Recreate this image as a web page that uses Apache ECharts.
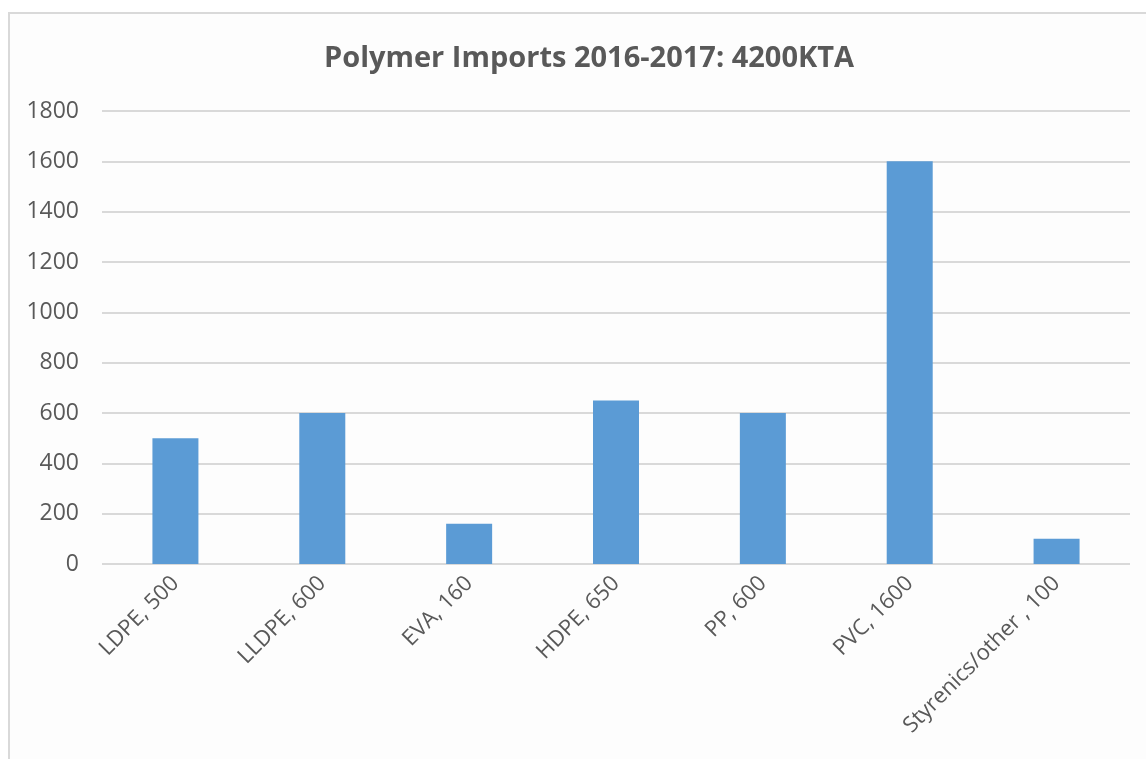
<!DOCTYPE html>
<html>
<head>
<meta charset="utf-8">
<script src="https://cdn.jsdelivr.net/npm/echarts@6/dist/echarts.min.js"></script>
<style>
  html, body { margin: 0; padding: 0; background: #ffffff; }
  #frame {
    position: absolute; left: 8px; top: 12px; width: 1150px; height: 760px;
    border: 2px solid #d9d9d9; background: #fdfdfd; box-sizing: border-box;
  }
  #chart { position: absolute; left: 0; top: 0; width: 1146px; height: 759px; }
</style>
</head>
<body>
<div id="frame"></div>
<div id="chart"></div>
<script>
// Polymer import volumes by type (KTA)
const categories = ['LDPE, 500', 'LLDPE, 600', 'EVA, 160', 'HDPE, 650', 'PP, 600', 'PVC, 1600', 'Styrenics/other , 100'];
const values = [500, 600, 160, 650, 600, 1600, 100];
const titleText = 'Polymer Imports 2016-2017: 4200KTA';

const chart = echarts.init(document.getElementById('chart'), null, { renderer: 'canvas' });
chart.setOption({
  backgroundColor: 'transparent',
  animation: false,
  title: {
    text: titleText,
    left: 319,
    top: 39,
    textStyle: { fontFamily: 'Open Sans', fontWeight: 'bold', fontSize: 29, color: '#595959' }
  },
  grid: { left: 102, right: 16, top: 111, bottom: 195 },
  xAxis: {
    type: 'category',
    data: categories,
    axisLine: { show: false },
    axisTick: { show: false },
    axisLabel: {
      interval: 0,
      rotate: 45,
      margin: 16,
      fontFamily: 'Open Sans',
      fontSize: 22,
      color: '#595959'
    }
  },
  yAxis: {
    type: 'value',
    min: 0,
    max: 1800,
    interval: 200,
    axisLine: { show: false },
    axisTick: { show: false },
    axisLabel: {
      margin: 23,
      fontFamily: 'Open Sans',
      fontSize: 23,
      color: '#595959',
      formatter: v => String(v)
    },
    splitLine: { lineStyle: { color: '#d9d9d9', width: 2 } }
  },
  series: [{
    type: 'bar',
    data: values,
    barWidth: 46,
    itemStyle: { color: '#5b9bd5' }
  }]
});
</script>
</body>
</html>
